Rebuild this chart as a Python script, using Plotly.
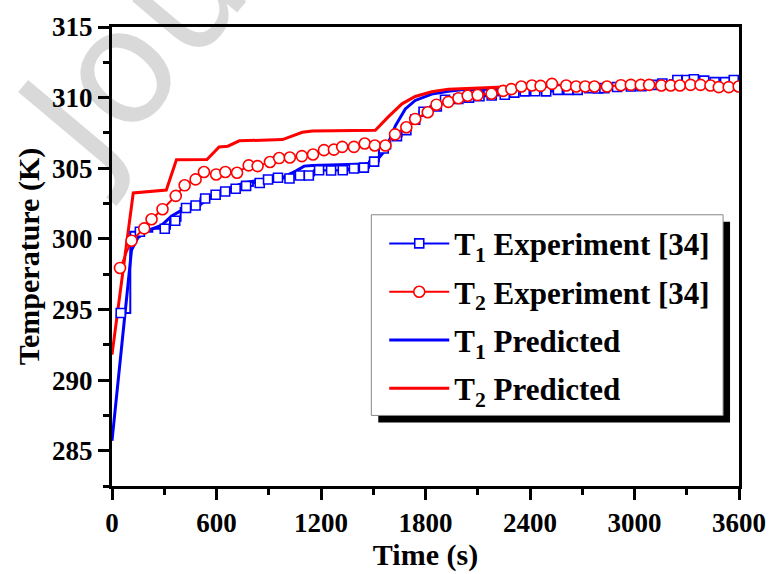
import plotly.graph_objects as go

# ---- measured series -------------------------------------------------------
# T1 experiment (squares)
t1_exp_time = [50, 160, 303, 363, 425, 480, 535, 595, 650, 710, 770, 848, 896, 953,
               1019, 1079, 1130, 1189, 1258, 1325, 1389, 1446, 1505, 1560, 1636, 1690,
               1741, 1789, 1865, 1912, 1989, 2050, 2110, 2180, 2255, 2310, 2370, 2430,
               2493, 2560, 2620, 2674, 2741, 2790, 2827, 2900, 2979, 3040, 3100, 3160,
               3246, 3300, 3341, 3400, 3460, 3520, 3570]
t1_exp_temp = [294.75, 300.5, 300.72, 301.28, 302.18, 302.36, 302.86, 303.12, 303.35,
               303.55, 303.75, 303.95, 304.2, 304.33, 304.27, 304.49, 304.49, 304.86,
               304.84, 304.86, 304.98, 305.04, 305.47, 306.4, 307.27, 307.7, 308.44,
               309.0, 309.38, 309.85, 309.9, 310.0, 310.1, 310.15, 310.2, 310.35, 310.44,
               310.45, 310.44, 310.55, 310.55, 310.55, 310.67, 310.65, 310.67, 310.75,
               310.79, 310.8, 310.9, 311.0, 311.25, 311.25, 311.3, 311.2, 311.1, 311.1,
               311.25]

# T2 experiment (circles)
t2_exp_time = [46, 112, 185, 227, 290, 366, 417, 480, 528, 598, 651, 718, 785, 836, 907,
               960, 1021, 1090, 1154, 1217, 1274, 1322, 1389, 1451, 1509, 1570, 1625,
               1690, 1741, 1813, 1863, 1931, 1989, 2042, 2099, 2179, 2246, 2293, 2350,
               2411, 2461, 2526, 2608, 2665, 2717, 2770, 2842, 2922, 2979, 3036, 3084,
               3154, 3208, 3261, 3322, 3379, 3436, 3484, 3541, 3598]
t2_exp_temp = [297.94, 299.87, 300.74, 301.39, 302.1, 303.04, 303.79, 304.21, 304.73,
               304.56, 304.73, 304.68, 305.2, 305.15, 305.44, 305.72, 305.76, 305.86,
               305.97, 306.28, 306.32, 306.51, 306.51, 306.75, 306.61, 306.61, 307.4,
               307.9, 308.49, 308.96, 309.5, 309.7, 309.96, 310.13, 310.18, 310.27,
               310.48, 310.6, 310.79, 310.86, 310.83, 310.97, 310.86, 310.79, 310.79,
               310.79, 310.79, 310.88, 310.9, 310.9, 310.9, 310.86, 310.86, 310.86,
               310.9, 310.9, 310.86, 310.74, 310.74, 310.79]

# T1 model prediction
t1_pred_time = [0, 112, 150, 208, 284, 341, 417, 490, 570, 627, 700, 760, 874, 989, 1055,
                1103, 1150, 1389, 1455, 1512, 1570, 1627, 1684, 1741, 1836, 1931, 2008,
                2200, 2600, 3000, 3300, 3600]
t1_pred_temp = [285.7, 299.2, 300.1, 300.6, 300.95, 301.6, 302.15, 302.3, 302.95, 303.4,
                303.7, 303.98, 304.21, 304.4, 304.8, 305.15, 305.2, 305.3, 305.3, 305.44,
                306.3, 308.0, 309.2, 309.8, 310.25, 310.45, 310.55, 310.6, 310.65, 310.75,
                311.0, 311.15]

# T2 model prediction
t2_pred_time = [0, 122, 312, 370, 545, 615, 665, 731, 979, 1036, 1093, 1150, 1512, 1589,
                1665, 1741, 1836, 1931, 2293, 3000, 3600]
t2_pred_temp = [291.8, 303.25, 303.46, 305.6, 305.62, 306.5, 306.56, 306.94, 307.03,
                307.27, 307.55, 307.64, 307.69, 308.67, 309.56, 310.08, 310.41, 310.6,
                310.78, 310.78, 310.75]

series_names = ["T<sub>1</sub> Experiment [34]", "T<sub>2</sub> Experiment [34]",
                "T<sub>1</sub> Predicted", "T<sub>2</sub> Predicted"]

x_ticks = [0, 600, 1200, 1800, 2400, 3000, 3600]
y_ticks = [285, 290, 295, 300, 305, 310, 315]

BLUE = "#0000ff"
RED = "#ff0000"
FONT = "Liberation Serif, Times New Roman, serif"

fig = go.Figure()

# model curves (drawn underneath the measured points)
fig.add_trace(go.Scatter(
    x=t1_pred_time, y=t1_pred_temp, mode="lines", name=series_names[2],
    line=dict(color=BLUE, width=3), legendrank=3, legendgroup="c"))
fig.add_trace(go.Scatter(
    x=t2_pred_time, y=t2_pred_temp, mode="lines", name=series_names[3],
    line=dict(color=RED, width=3), legendrank=4, legendgroup="d"))

# measured curves
fig.add_trace(go.Scatter(
    x=t1_exp_time, y=t1_exp_temp, mode="lines+markers", name=series_names[0],
    line=dict(color=BLUE, width=2, shape="hvh"),
    marker=dict(symbol="square", size=9, color="white", line=dict(color=BLUE, width=1.6)),
    legendrank=1, legendgroup="a"))
fig.add_trace(go.Scatter(
    x=t2_exp_time, y=t2_exp_temp, mode="lines+markers", name=series_names[1],
    line=dict(color=RED, width=2),
    marker=dict(symbol="circle", size=11, color="white", line=dict(color=RED, width=1.6)),
    legendrank=2, legendgroup="b"))

axis_common = dict(
    showline=True, linecolor="black", linewidth=3, mirror=True,
    ticks="outside", ticklen=11, tickwidth=2.5, tickcolor="black",
    showgrid=False, zeroline=False,
    tickfont=dict(family=FONT, size=27, color="black", weight="bold"),
)

fig.update_xaxes(
    range=[0, 3600], tickvals=x_ticks, ticktext=[str(v) for v in x_ticks],
    minor=dict(dtick=300, tick0=0, ticks="outside", ticklen=6, tickwidth=2.5, tickcolor="black"),
    title=dict(text="Time (s)", font=dict(family=FONT, size=30, color="black", weight="bold"),
               standoff=2),
    **axis_common)
fig.update_yaxes(
    range=[282.5, 315], tickvals=y_ticks, ticktext=[str(v) for v in y_ticks],
    minor=dict(dtick=2.5, tick0=282.5, ticks="outside", ticklen=6, tickwidth=2.5, tickcolor="black"),
    title=dict(text="Temperature (K)", font=dict(family=FONT, size=30, color="black", weight="bold"),
               standoff=4),
    **axis_common)

# legend frame: black drop shadow, then white box with thin grey border
fig.add_shape(type="rect", xref="paper", yref="paper",
              x0=0.4247, x1=0.9857, y0=0.1385, y1=0.5758,
              fillcolor="black", line=dict(width=0), layer="above")
fig.add_shape(type="rect", xref="paper", yref="paper",
              x0=0.4136, x1=0.9746, y0=0.1537, y1=0.5909,
              fillcolor="white", line=dict(color="#888888", width=1), layer="above")

fig.update_layout(
    width=778, height=574,
    margin=dict(l=112, r=35, t=24, b=88),
    paper_bgcolor="white", plot_bgcolor="white",
    showlegend=True,
    legend=dict(
        x=0.4342, y=0.5866, xanchor="left", yanchor="top",
        bgcolor="rgba(0,0,0,0)", borderwidth=0,
        font=dict(family=FONT, size=31, color="black", weight="bold"),
        itemwidth=60, tracegroupgap=5, traceorder="grouped",
    ),
    annotations=[dict(
        text="Jou", xref="paper", yref="paper", x=0.03, y=0.945,
        xanchor="center", yanchor="middle",
        showarrow=False, textangle=-50,
        font=dict(family="DejaVu Sans", size=160, color="rgba(0,0,0,0.15)"),
    )],
)

fig.write_html("out.html")
